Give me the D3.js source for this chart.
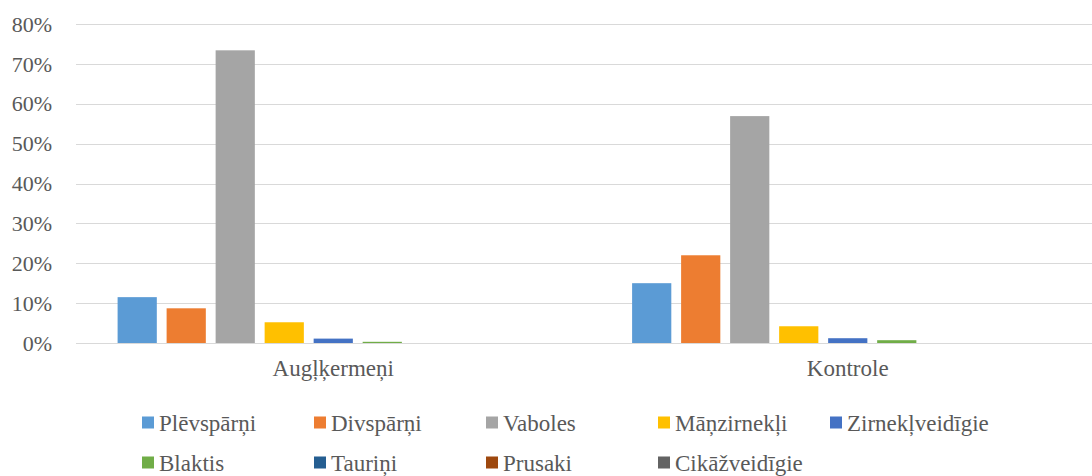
<!DOCTYPE html>
<html>
<head>
<meta charset="utf-8">
<script src="https://cdn.jsdelivr.net/npm/d3@7"></script>
</head>
<body style="margin:0; font-family: 'Liberation Serif', serif;">
<script>
const categories = ["Augļķermeņi", "Kontrole"];
const seriesNames = ["Plēvspārņi", "Divspārņi", "Vaboles", "Māņzirnekļi", "Zirnekļveidīgie",
                     "Blaktis", "Tauriņi", "Prusaki", "Cikāžveidīgie"];
// share per category, one array per series (Augļķermeņi, Kontrole)
const plevsparni = [0.115, 0.150];
const divsparni = [0.087, 0.220];
const vaboles = [0.734, 0.569];
const manzirnekli = [0.052, 0.042];
const zirneklveidigie = [0.011, 0.012];
const blaktis = [0.003, 0.007];
const taurini = [0, 0];
const prusaki = [0, 0];
const cikazveidigie = [0, 0];
const yTicks = [0, 0.1, 0.2, 0.3, 0.4, 0.5, 0.6, 0.7, 0.8];

const seriesValues = [plevsparni, divsparni, vaboles, manzirnekli, zirneklveidigie,
                      blaktis, taurini, prusaki, cikazveidigie];
const colors = ["#5B9BD5", "#ED7D31", "#A5A5A5", "#FFC000", "#4472C4",
                "#70AD47", "#255E91", "#9E480E", "#636363"];

const width = 1092, height = 476;
const plotLeft = 76, plotRight = 1105, plotTop = 24, plotBottom = 343;
const fontFamily = "'Liberation Serif', serif";
const textColor = "#595959";

const svg = d3.select("body").append("svg")
    .attr("width", width)
    .attr("height", height)
    .style("font-family", fontFamily);

const x0 = d3.scaleBand().domain(categories).range([plotLeft, plotRight]);
const groupPad = 41.6;
const x1 = d3.scaleBand().domain(seriesNames)
    .range([groupPad, x0.bandwidth() - groupPad])
    .paddingInner(0.2);
const y = d3.scaleLinear().domain([0, 0.8]).range([plotBottom, plotTop]);

// gridlines
svg.append("g")
    .selectAll("line")
    .data(yTicks)
    .enter()
    .append("line")
    .attr("x1", plotLeft)
    .attr("x2", plotRight)
    .attr("y1", d => Math.round(y(d)) + 0.5)
    .attr("y2", d => Math.round(y(d)) + 0.5)
    .attr("stroke", "#d9d9d9")
    .attr("stroke-width", 1);

// y tick labels
svg.append("g")
    .selectAll("text")
    .data(yTicks)
    .enter()
    .append("text")
    .attr("x", 52)
    .attr("y", d => y(d))
    .attr("dy", "0.35em")
    .attr("text-anchor", "end")
    .style("font-family", fontFamily)
    .style("font-size", "22px")
    .attr("fill", textColor)
    .text(d => d3.format(".0%")(d));

// bars
const groups = svg.append("g")
    .selectAll("g")
    .data(categories)
    .enter()
    .append("g")
    .attr("transform", d => `translate(${x0(d)},0)`);

groups.selectAll("rect")
    .data((cat, ci) => seriesNames.map((s, si) => ({ s: s, v: seriesValues[si][ci], c: colors[si] })))
    .enter()
    .append("rect")
    .attr("x", d => x1(d.s))
    .attr("width", x1.bandwidth())
    .attr("y", d => y(d.v))
    .attr("height", d => y(0) - y(d.v))
    .attr("fill", d => d.c);

// category labels
svg.append("g")
    .selectAll("text")
    .data(categories)
    .enter()
    .append("text")
    .attr("x", d => x0(d) + x0.bandwidth() / 2)
    .attr("y", 376)
    .attr("text-anchor", "middle")
    .style("font-family", fontFamily)
    .style("font-size", "23px")
    .attr("fill", textColor)
    .text(d => d);

// legend, 5 items per row
const legend = svg.append("g")
    .selectAll("g")
    .data(seriesNames)
    .enter()
    .append("g")
    .attr("transform", (d, i) => `translate(${142 + (i % 5) * 172},${i < 5 ? 422.5 : 462.5})`);

legend.append("rect")
    .attr("x", 0)
    .attr("y", -6)
    .attr("width", 12)
    .attr("height", 12)
    .attr("fill", (d, i) => colors[i]);

legend.append("text")
    .attr("x", 17)
    .attr("y", 8.5)
    .style("font-family", fontFamily)
    .style("font-size", "23px")
    .attr("fill", textColor)
    .text(d => d);
</script>
</body>
</html>
